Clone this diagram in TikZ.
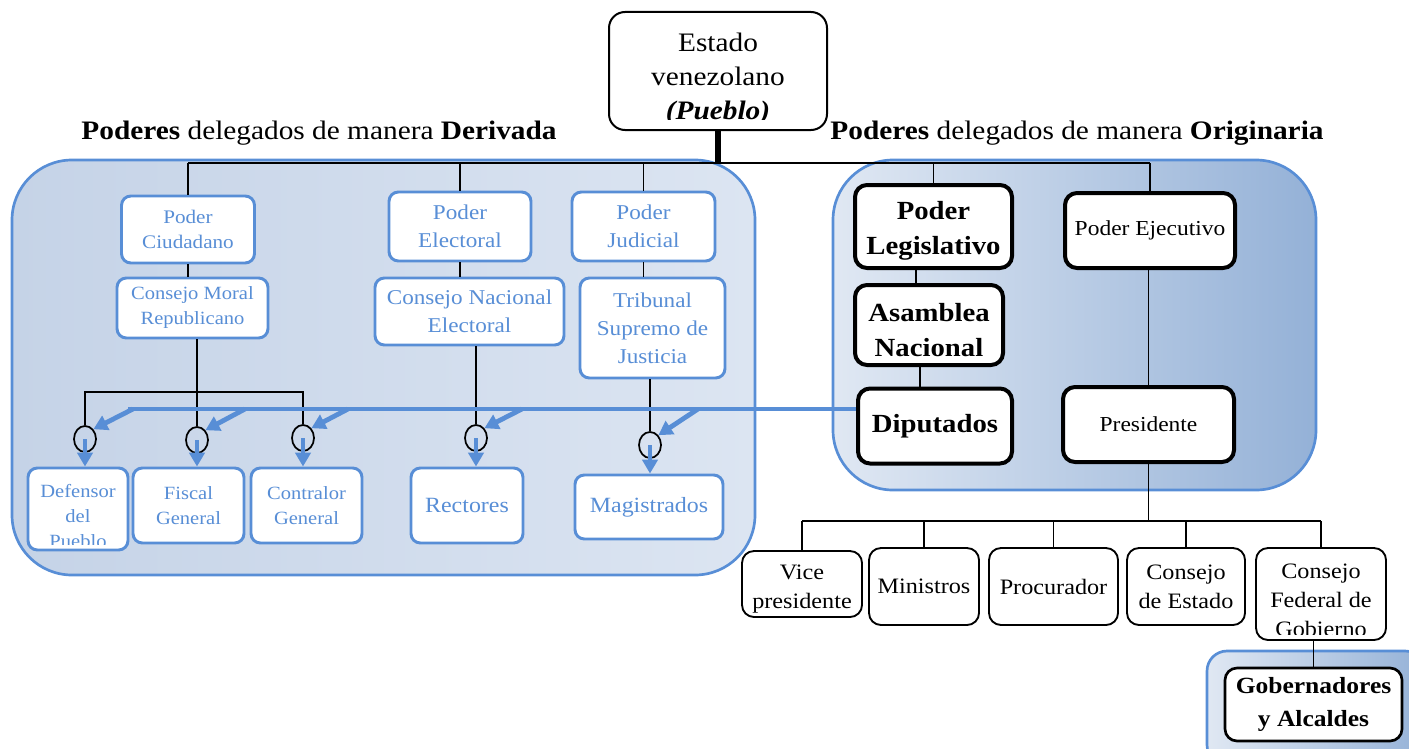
\documentclass[tikz,border=0pt]{standalone}
\usepackage{fontspec}
\setmainfont[FakeStretch=1.1]{Liberation Serif}
\usetikzlibrary{arrows.meta,shapes.geometric}
\definecolor{myblue}{RGB}{88,142,214}
\definecolor{lpA}{RGB}{197,211,231}
\definecolor{lpB}{RGB}{191,206,228}
\definecolor{lpC}{RGB}{220,229,242}
\definecolor{rpA}{RGB}{224,232,243}
\definecolor{rpB}{RGB}{148,177,215}
\newcommand{\fs}[2]{\fontsize{#1}{#2}\selectfont}
\tikzset{
  sz/.style 2 args={minimum width=#1*0.75pt, minimum height=#2*0.75pt},
  panel/.style={draw=myblue, line width=2pt},
  bbox/.style={draw=myblue, line width=2.2pt, fill=white, rounded corners=7pt, text=myblue, align=center, inner sep=0pt},
  kbox/.style={draw=black, line width=3pt, fill=white, rounded corners=9pt, align=center, inner sep=0pt},
  tbox/.style={draw=black, line width=1.4pt, fill=white, rounded corners=9pt, align=center, inner sep=0pt},
  txt/.style={align=center, inner sep=0pt},
  conn/.style={line width=1.3pt},
  bline/.style={draw=myblue, line width=3.6pt},
  barrow/.style={draw=myblue, line width=3.6pt, -{Triangle[length=10.5pt,width=11.5pt]}},
  ring/.style={draw, ellipse, line width=1.3pt, minimum width=16.5pt, minimum height=19.5pt, inner sep=0pt},
  title/.style={inner sep=0pt, font=\fs{20}{24}},
}
\begin{document}
\begin{tikzpicture}[x=0.75pt,y=-0.75pt]
\useasboundingbox (0,0) rectangle (1409,749);
% panels
\path[panel, rounded corners=45pt, left color=lpA, middle color=lpB, right color=lpC] (12,160) rectangle (755,575);
\path[panel, rounded corners=45pt, left color=rpA, right color=rpB] (833,160) rectangle (1316,490);
\path[panel, rounded corners=15pt, left color=rpA, right color=rpB] (1207,651) rectangle (1425,765);

% titles
\node[title] (t1) at (319,133) {\textbf{Poderes} delegados de manera \textbf{Derivada}};
\node[title] (t2) at (1077,133) {\textbf{Poderes} delegados de manera \textbf{Originaria}};

% top node
\node[tbox, line width=1.5pt, rounded corners=12pt, sz={218}{118}] (estado) at (718,71) {};
\begin{scope}
  \clip (estado.north west) rectangle ([yshift=8.5pt]estado.south east);
  \node[txt, font=\fs{20}{25.5}] (estadot) at (718,79) {Estado\\venezolano\\\textbf{\textit{(Pueblo)}}};
\end{scope}

% derived powers
\node[bbox, sz={133}{67}, font=\fs{14.4}{18.75}] (pc) at (188,229.5) {Poder\\Ciudadano};
\node[bbox, sz={151}{60}, font=\fs{14}{18.75}] (cmr) at (192.5,308) {Consejo Moral\\Republicano};
\node[bbox, sz={142}{69}, font=\fs{15.8}{21}] (pe) at (460,226.5) {Poder\\Electoral};
\node[bbox, sz={189}{67}, font=\fs{15.8}{21}] (cne) at (469.5,311.5) {Consejo Nacional\\Electoral};
\node[bbox, sz={143}{69}, font=\fs{15.8}{21}] (pj) at (643.5,226.5) {Poder\\Judicial};
\node[bbox, sz={145}{100}, font=\fs{15.8}{21}] (tsj) at (652.5,328) {Tribunal\\Supremo de\\Justicia};

\node[bbox, sz={100}{82}] (def) at (78,509) {};
\begin{scope}
  \clip (def.north west) rectangle ([yshift=5pt]def.south east);
  \node[txt, text=myblue, font=\fs{14}{18.75}] (deft) at (78,516) {Defensor\\del\\Pueblo};
\end{scope}
\node[bbox, sz={111}{75}, font=\fs{14}{18.75}] (fis) at (188.5,505.5) {Fiscal\\General};
\node[bbox, sz={111}{75}, font=\fs{14}{18.75}] (con) at (306.5,505.5) {Contralor\\General};
\node[bbox, sz={112}{75}, font=\fs{16.3}{21}] (rec) at (467,505.5) {Rectores};
\node[bbox, sz={148}{64}, font=\fs{16.3}{21}] (mag) at (649,507) {Magistrados};

% rings
\node[ring] (r1) at (85,439) {};
\node[ring] (r2) at (197,440) {};
\node[ring] (r3) at (303,438) {};
\node[ring] (r4) at (476,438) {};
\node[ring] (r5) at (650,445) {};

% original powers
\node[kbox, sz={157}{83}] (leg) at (933.5,226.5) {};
\node[txt, font=\bfseries\fs{19.6}{26.5}] (legt) at (933.5,231) {Poder\\Legislativo};
\node[kbox, sz={148}{80}] (asa) at (929,325) {};
\node[txt, font=\bfseries\fs{19.6}{26.5}] (asat) at (929,330) {Asamblea\\Nacional};
\node[kbox, sz={154}{75}, font=\bfseries\fs{19.6}{26.5}] (dip) at (935,426) {Diputados};
\node[kbox, sz={170}{75}, font=\fs{16}{18}] (eje) at (1150,230.5) {Poder Ejecutivo};
\node[kbox, sz={171}{75}, font=\fs{16}{18}] (pre) at (1148.5,424.5) {Presidente};

% executive subordinates
\node[tbox, sz={120}{66}] (vice) at (802,584) {};
\node[txt, font=\fs{16.5}{21.75}] (vicet) at (802,589) {Vice\\presidente};
\node[tbox, sz={110}{77}, font=\fs{16.5}{21.75}] (min) at (924,586.5) {Ministros};
\node[tbox, sz={129}{77}, font=\fs{16.5}{21.75}] (proc) at (1053.5,586.5) {Procurador};
\node[tbox, sz={118}{77}, font=\fs{16.5}{21.75}] (cde) at (1186,586.5) {Consejo\\de Estado};
\node[tbox, sz={130}{92}] (cfg) at (1321,594) {};
\begin{scope}
  \clip (cfg.north west) rectangle ([yshift=4.5pt]cfg.south east);
  \node[txt, font=\fs{16.5}{21.75}] (cfgt) at (1321,600) {Consejo\\Federal de\\Gobierno};
\end{scope}
\node[kbox, line width=2pt, sz={177}{73}, font=\bfseries\fs{17.4}{24.5}] (gob) at (1313.5,704.5) {Gobernadores\\y Alcaldes};

% connectors
\coordinate (bus) at (718,163);
\draw[line width=4pt] (estado.south) -- (bus);
\draw[conn] (pc.north |- bus) -- (eje.north |- bus);
\foreach \n in {pc,pe,pj,leg,eje} \draw[conn] (\n.north) -- (\n.north |- bus);
\draw[conn] (pc.south) -- (pc.south |- cmr.north);
\draw[conn] (pe.south) -- (pe.south |- cne.north);
\draw[conn] (pj.south) -- (pj.south |- tsj.north);
\draw[conn] (asa.north -| 916,0) -- (leg.south -| 916,0);
\draw[conn] (dip.north -| 920,0) -- (asa.south -| 920,0);
\draw[conn] (pre.north) -- (pre.north |- eje.south);

\coordinate (cb) at (0,392);
\draw[conn] (r2 |- cmr.south) -- (r2.north);
\draw[conn] (r1.north) -- (r1.north |- cb) -- (r3.north |- cb) -- (r3.north);
\draw[conn] (r4 |- cne.south) -- (r4.north);
\draw[conn] (r5 |- tsj.south) -- (r5.north);

\coordinate (pb) at (0,521);
\draw[conn] (pre.south) -- (pre.south |- pb);
\draw[conn] (vice.north |- pb) -- (cfg.north |- pb);
\foreach \n in {vice,min,proc,cde,cfg} \draw[conn] (\n.north) -- (\n.north |- pb);
\draw[conn] (gob.north |- cfg.south) -- (gob.north);

% blue delegation line and arrows
\coordinate (bl) at (128,409);
\draw[bline] (dip.west |- bl) -- (bl);
\coordinate (b1) at (133,409);
\coordinate (b2) at (245,409);
\coordinate (b3) at (348,409);
\coordinate (b4) at (522,409);
\coordinate (b5) at (698,409);
\draw[barrow] (b1) -- (r1.north east);
\draw[barrow] (b2) -- (r2.north east);
\draw[barrow] (b3) -- (r3.north east);
\draw[barrow] (b4) -- (r4.north east);
\draw[barrow] (b5) -- (r5.north east);
\draw[barrow] (r1.center) -- (r1 |- def.north);
\draw[barrow] (r2.center) -- (r2 |- fis.north);
\draw[barrow] (r3.center) -- (r3 |- con.north);
\draw[barrow] (r4.center) -- (r4 |- rec.north);
\draw[barrow] (r5.center) -- (r5 |- mag.north);
\end{tikzpicture}
\end{document}
